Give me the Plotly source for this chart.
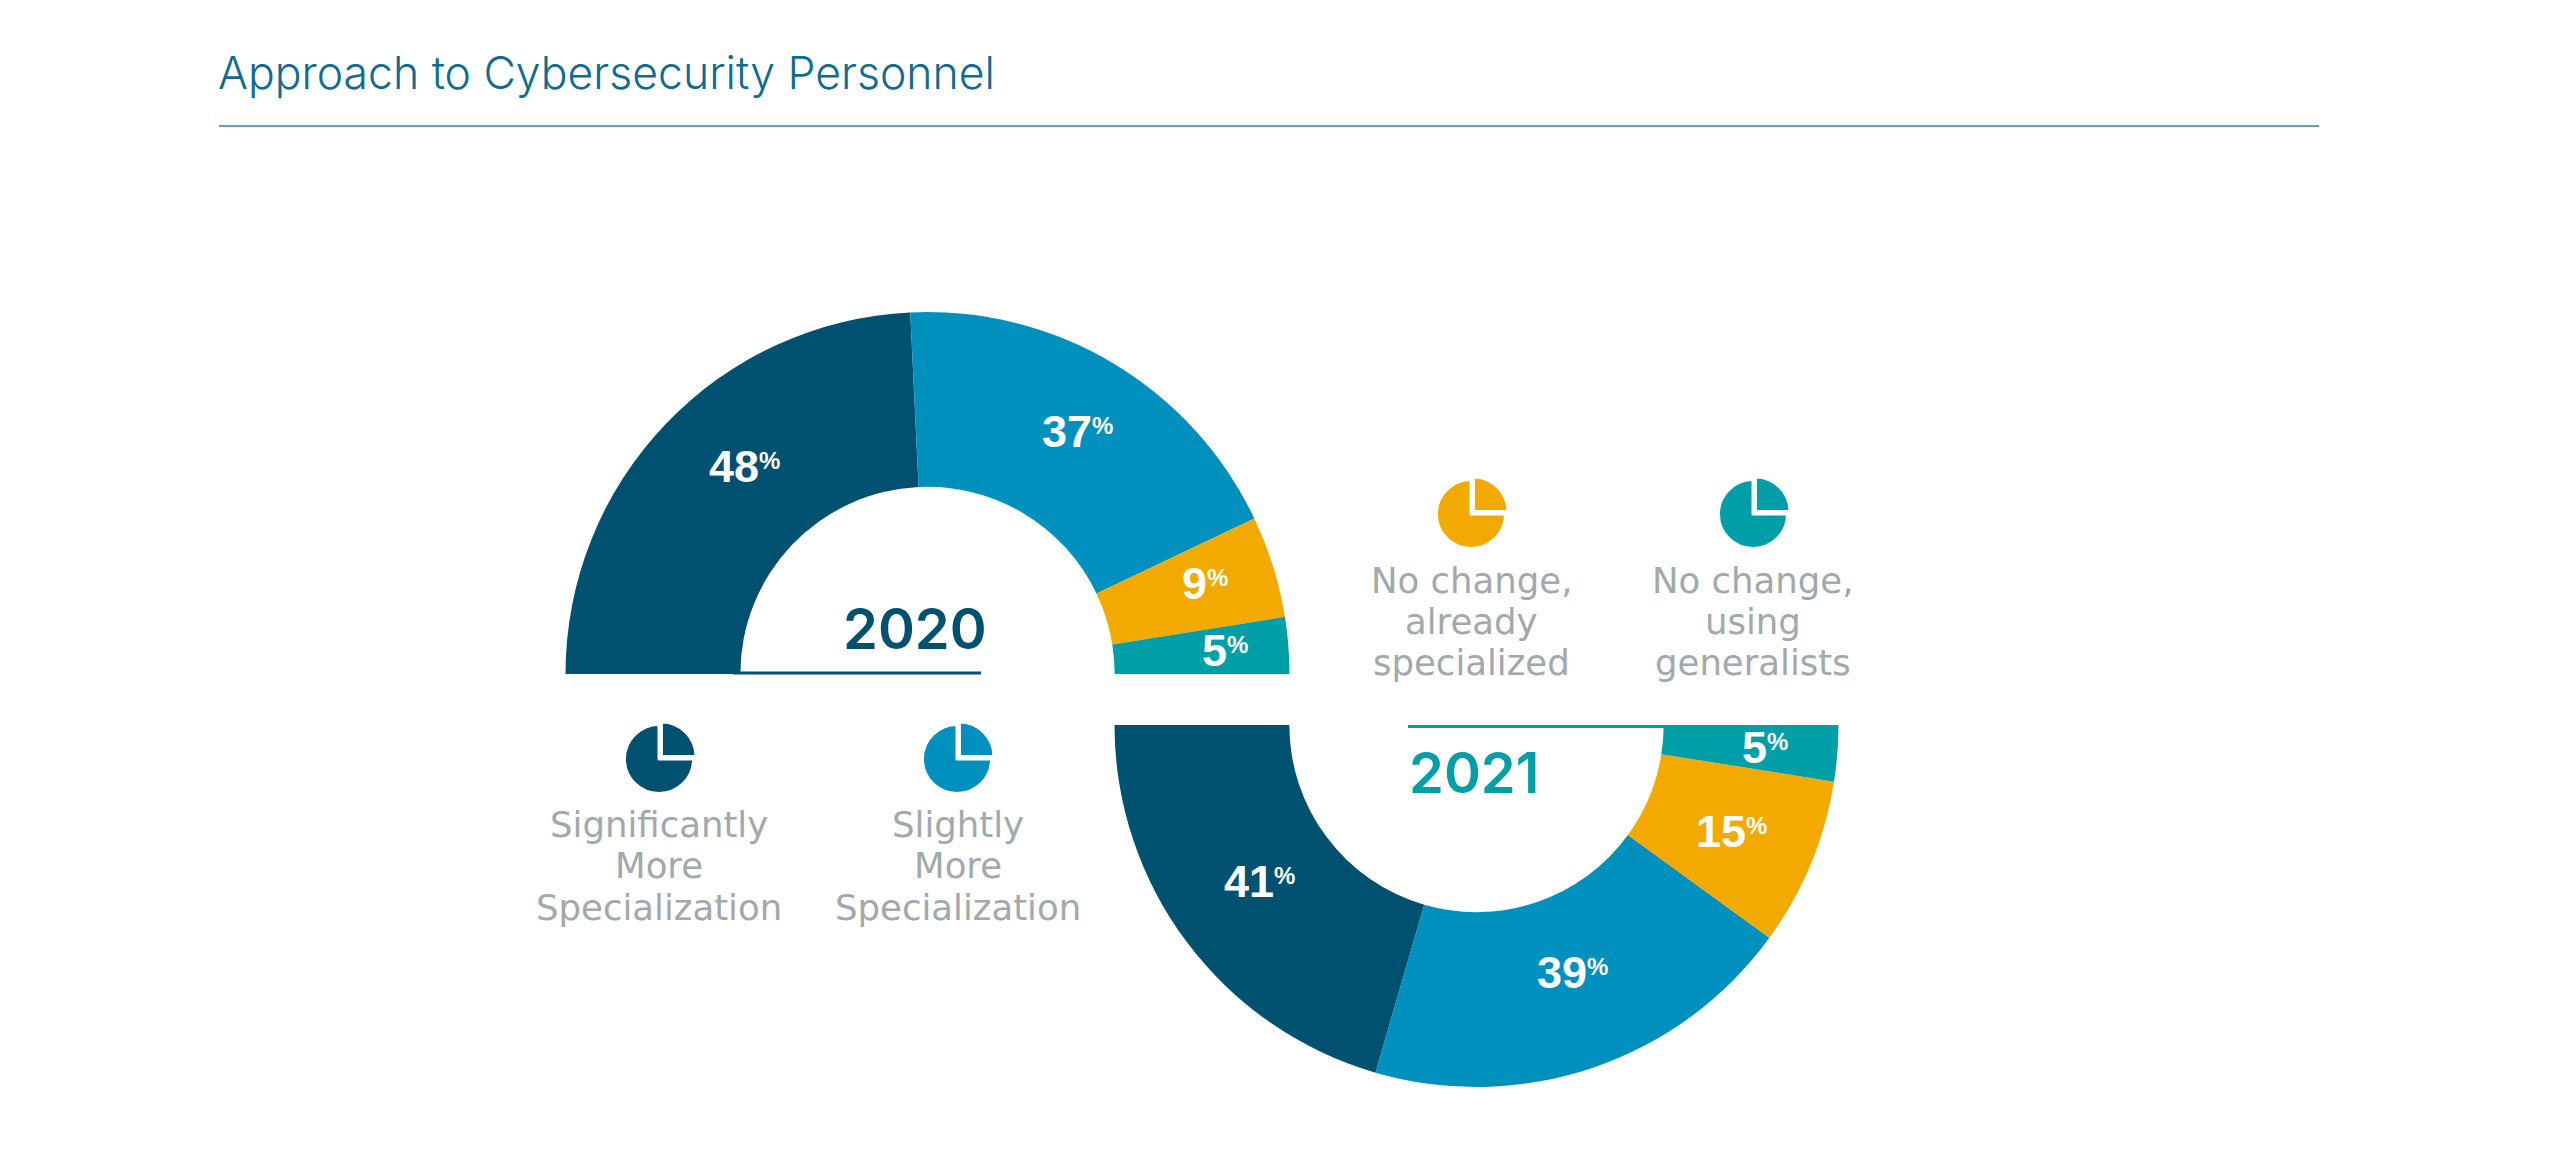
import math
import plotly.graph_objects as go

W, H = 2550, 1154

TITLE = "Approach to Cybersecurity Personnel"
CATEGORIES = ["Significantly More Specialization", "Slightly More Specialization",
              "No change, already specialized", "No change, using generalists"]
VALUES_2020 = [48, 37, 9, 5]
VALUES_2021 = [41, 39, 15, 5]
ICON_VALUES = [25, 75]
LEGEND_LINES = [["Significantly", "More", "Specialization"],
                ["Slightly", "More", "Specialization"],
                ["No change,", "already", "specialized"],
                ["No change,", "using", "generalists"]]

COLORS = ["#00506F", "#0090BD", "#F2A900", "#009FA8"]
GREY = "#A2A8AC"
HEAD = "#0F6C8E"
SANS = "Inter, 'Open Sans', sans-serif"
WIDE = "'DejaVu Sans', sans-serif"
BOLD = "'Liberation Sans', sans-serif"

R, HOLE = 362, 0.517
C20 = (927.5, 674)
C21 = (1476.5, 725)
LABEL_R_20 = [280, 286, 291, 298]
LABEL_R_21 = [267, 265, 276, 289]
LABEL_NUDGE_20 = [(20, -14), (3, 3), (0, -4), (0, 0)]
LABEL_NUDGE_21 = [(-3, -4), (10, -3), (0, 1), (0, 0)]
ICON_CENTRES = [(659, 759), (957, 759), (1471, 514), (1753, 514)]
LEGEND_X = [659, 958, 1471.5, 1753]
LEGEND_Y = [[824, 865, 907], [824, 865, 907], [580, 621, 662], [580, 621, 662]]


def px(x):
    return x / W


def py(y):
    return 1 - y / H


def dom(cx, cy, r):
    return dict(x=[px(cx - r), px(cx + r)], y=[py(cy + r), py(cy - r)])


def half_donut(values, centre, direction):
    total = sum(values)
    # a counterclockwise pie keeps its first slice where a clockwise one would put it
    rot = 270 if direction == "clockwise" else 270 - 180 * values[0] / total
    return go.Pie(
        labels=CATEGORIES + ["(rest of circle)"],
        values=values + [total],
        sort=False, direction=direction, rotation=rot, hole=HOLE,
        textinfo="none", showlegend=False, hoverinfo="label+value",
        marker=dict(colors=COLORS + ["rgba(0,0,0,0)"], line=dict(width=0)),
        domain=dom(centre[0], centre[1], R),
    )


fig = go.Figure()
fig.add_trace(half_donut(VALUES_2020, C20, "clockwise"))
fig.add_trace(half_donut(VALUES_2021, C21, "counterclockwise"))

for colour, (cx, cy) in zip(COLORS, ICON_CENTRES):
    fig.add_trace(go.Pie(
        values=ICON_VALUES, sort=False, direction="clockwise", rotation=0,
        pull=[0.1, 0], textinfo="none", showlegend=False, hoverinfo="skip",
        marker=dict(colors=[colour, colour], line=dict(color="white", width=3)),
        domain=dom(cx, cy, 38),
    ))

annotations = []


def text(x, y, s, size, color, family=SANS, weight=400, anchor="center"):
    annotations.append(dict(
        x=px(x), y=py(y), xref="paper", yref="paper", text=s, showarrow=False,
        xanchor=anchor, yanchor="middle",
        borderpad=0, borderwidth=0,
        font=dict(size=size, color=color, family=family, weight=weight),
    ))


def value_labels(values, centre, radii, nudges, sign):
    total = sum(values)
    running = 0
    for v, r, (dx, dy) in zip(values, radii, nudges):
        a = math.pi * (running + v / 2) / total
        running += v
        x = centre[0] - r * math.cos(a) + dx
        y = centre[1] - sign * r * math.sin(a) + dy
        text(x, y, f'{v}<span style="font-size:24px;baseline-shift:13px">%</span>', 45,
             "#FFFFFF", BOLD, 700)


value_labels(VALUES_2020, C20, LABEL_R_20, LABEL_NUDGE_20, 1)
value_labels(VALUES_2021, C21, LABEL_R_21, LABEL_NUDGE_21, -1)

text(218, 73, TITLE, 44.5, HEAD, SANS, 300, "left")
text(915, 629, "2020", 56, COLORS[0], SANS, 600)
text(1474, 773, "2021", 56, COLORS[3], SANS, 600)

for xc, ys, lines in zip(LEGEND_X, LEGEND_Y, LEGEND_LINES):
    for y, line in zip(ys, lines):
        text(xc, y, line, 35.5, GREY, WIDE)

shapes = [
    dict(type="line", xref="paper", yref="paper", x0=px(219), x1=px(2319), y0=py(126), y1=py(126),
         line=dict(color="#5FA3B8", width=2)),
    dict(type="line", xref="paper", yref="paper", x0=px(733), x1=px(981), y0=py(673), y1=py(673),
         line=dict(color=COLORS[0], width=3)),
    dict(type="line", xref="paper", yref="paper", x0=px(1408), x1=px(1668), y0=py(726.5), y1=py(726.5),
         line=dict(color=COLORS[3], width=3)),
]

fig.update_layout(
    width=W, height=H, margin=dict(l=0, r=0, t=0, b=0),
    paper_bgcolor="white", plot_bgcolor="white",
    annotations=annotations, shapes=shapes,
)
fig.write_html("out.html", config=dict(displayModeBar=False),
               post_script="document.body.style.margin='0';document.body.style.overflow='hidden';")
